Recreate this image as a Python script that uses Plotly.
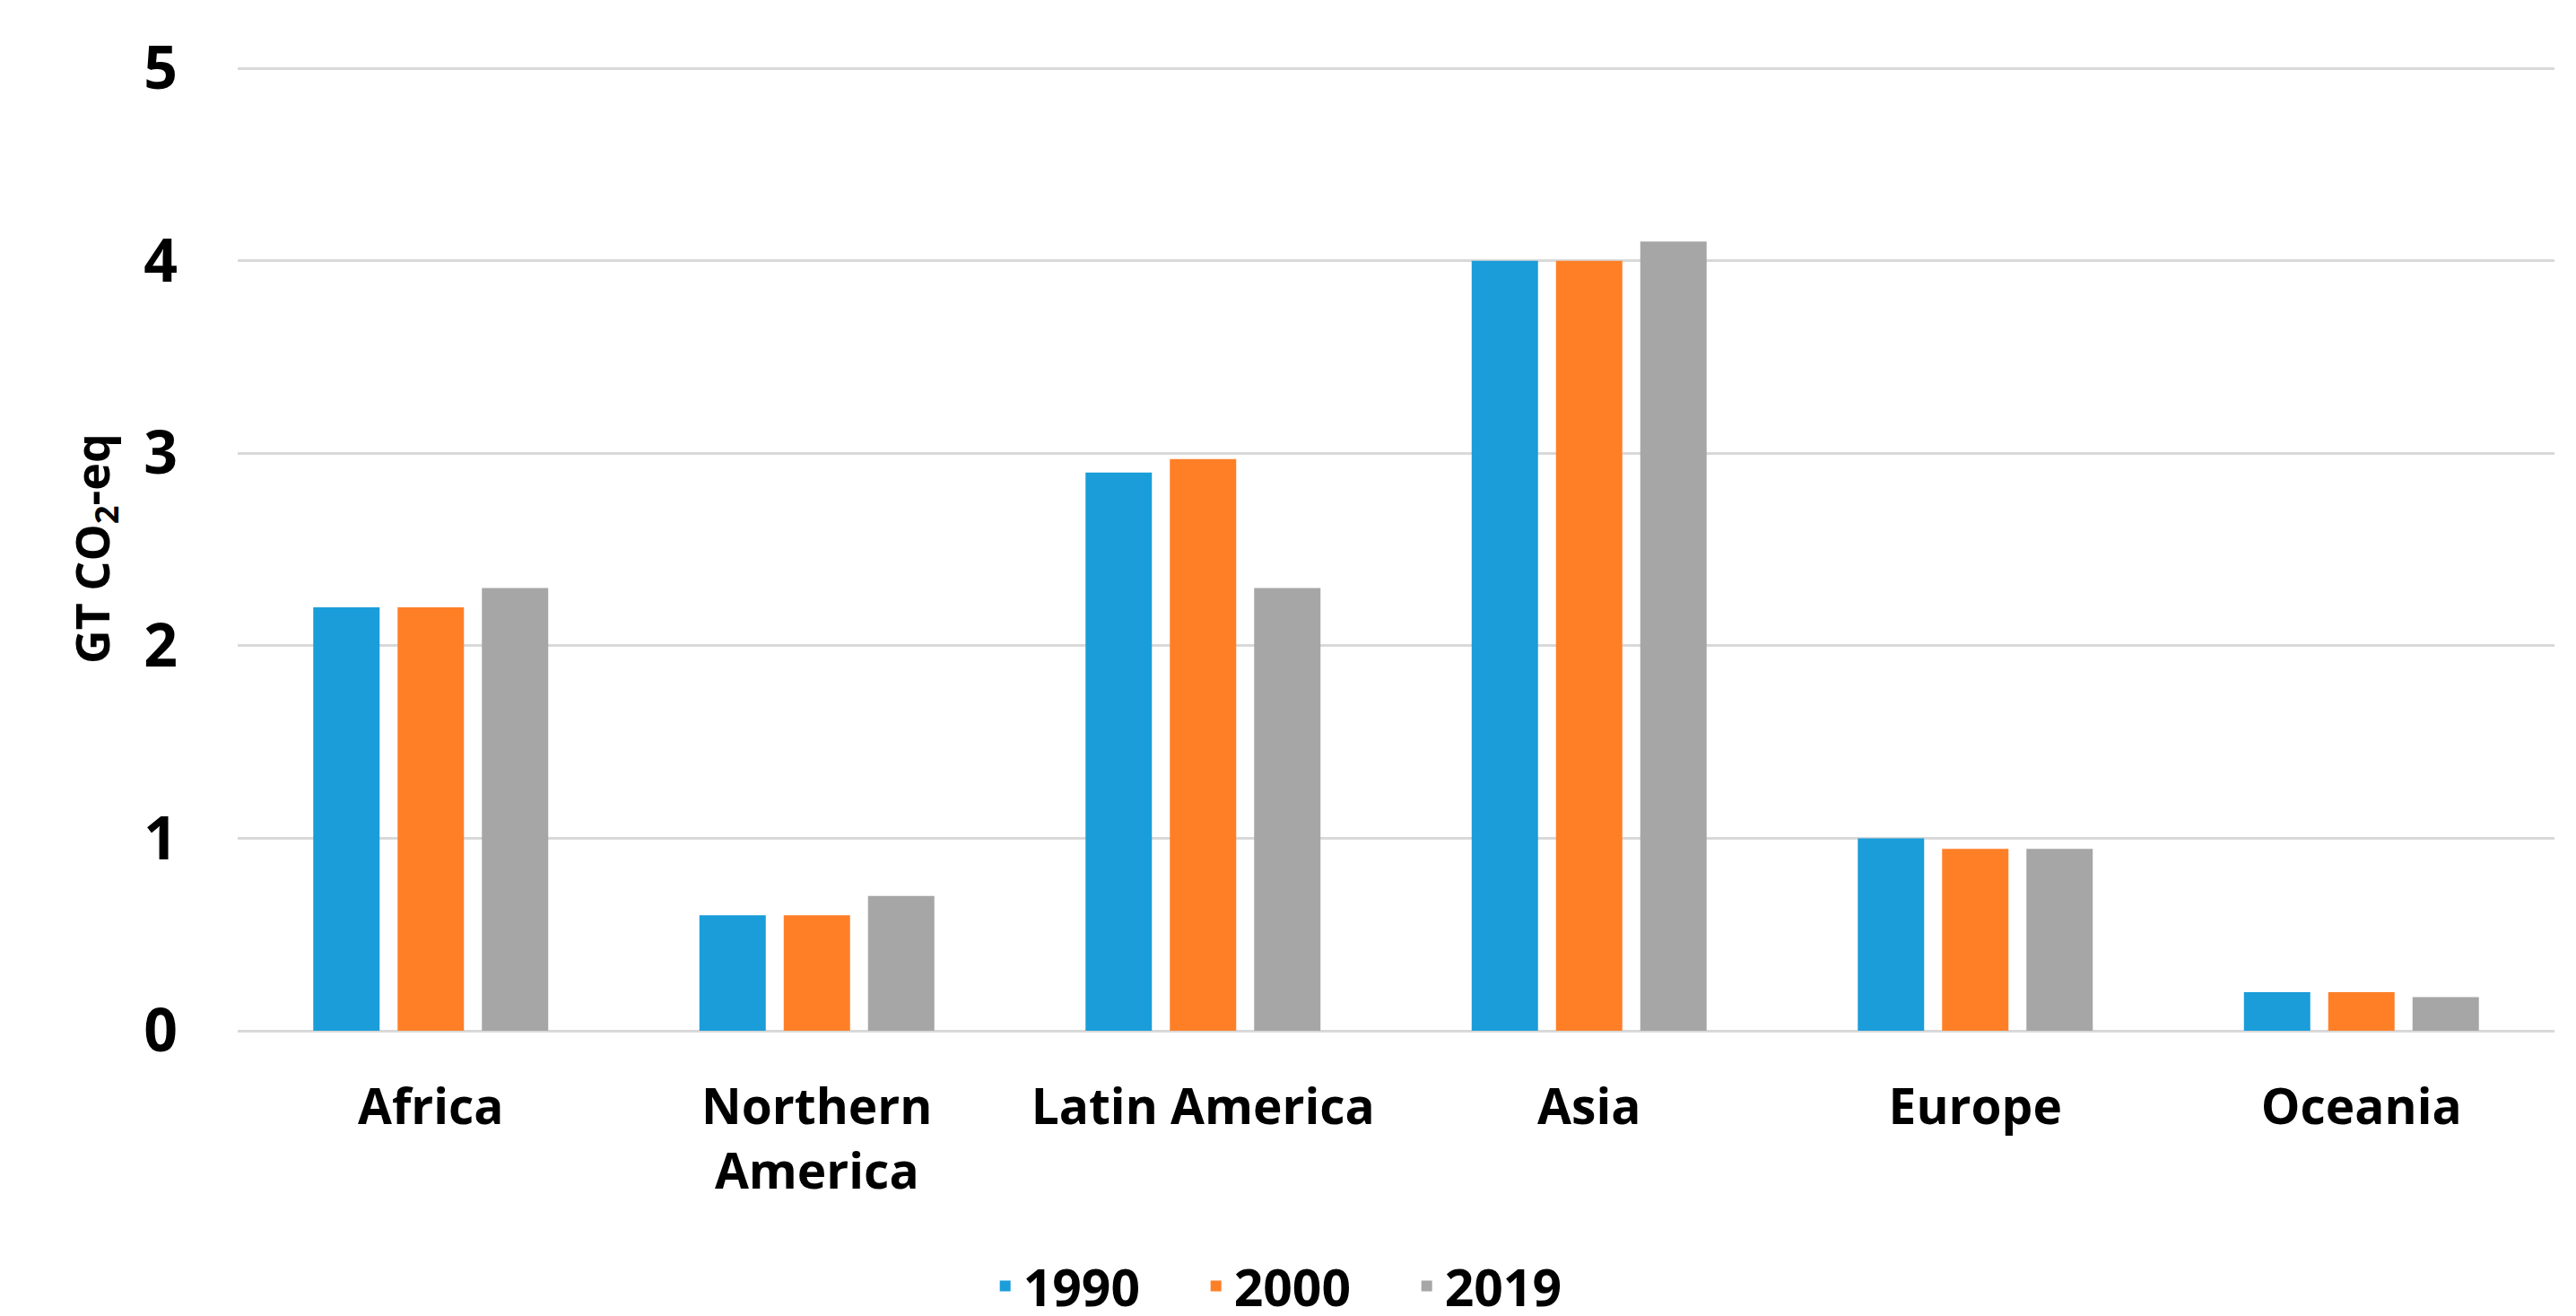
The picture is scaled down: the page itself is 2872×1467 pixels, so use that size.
import plotly.graph_objects as go

categories = ["Africa", "Northern<br>America", "Latin America", "Asia", "Europe", "Oceania"]
years = ["1990", "2000", "2019"]
v1990 = [2.2, 0.6, 2.9, 4.0, 1.0, 0.2]
v2000 = [2.2, 0.6, 2.97, 4.0, 0.945, 0.2]
v2019 = [2.3, 0.7, 2.3, 4.1, 0.945, 0.175]
colors = ["#1A9DD9", "#FF7F27", "#A6A6A6"]
y_ticks = [0, 1, 2, 3, 4, 5]

FONT = "Open Sans"

fig = go.Figure()
for name, vals, col in zip(years, [v1990, v2000, v2019], colors):
    fig.add_trace(go.Bar(x=categories, y=vals, name=name, marker_color=col,
                         marker_line_width=0))

fig.update_layout(
    width=2872, height=1467,
    margin=dict(l=257, r=32, t=66, b=326, autoexpand=False),
    paper_bgcolor="white", plot_bgcolor="white",
    barmode="group", bargap=0.345, bargroupgap=0.213,
    font=dict(family=FONT, color="black"),
    showlegend=True,
    legend=dict(orientation="h", x=0.46, xanchor="center", y=-0.265, yanchor="middle",
                font=dict(family=FONT, size=57, color="black", weight="bold"),
                itemwidth=30, entrywidth=190, tracegroupgap=0),
)
fig.update_xaxes(
    showgrid=False, showline=False, zeroline=False, ticks="",
    tickfont=dict(family=FONT, size=55, color="black", weight="bold"),
    ticklabelstandoff=48,
)
fig.update_yaxes(
    range=[0, 5.01], tickvals=y_ticks,
    showgrid=True, gridcolor="#D9D9D9", gridwidth=3,
    zeroline=True, zerolinecolor="#D9D9D9", zerolinewidth=3,
    showline=False, ticks="",
    tickfont=dict(family=FONT, size=66, color="black", weight="bold"),
    ticklabelstandoff=66,
    title=dict(text="GT CO<sub>2</sub>-eq", standoff=21,
               font=dict(family=FONT, size=52, color="black", weight="bold")),
)

fig.write_html("out.html")
